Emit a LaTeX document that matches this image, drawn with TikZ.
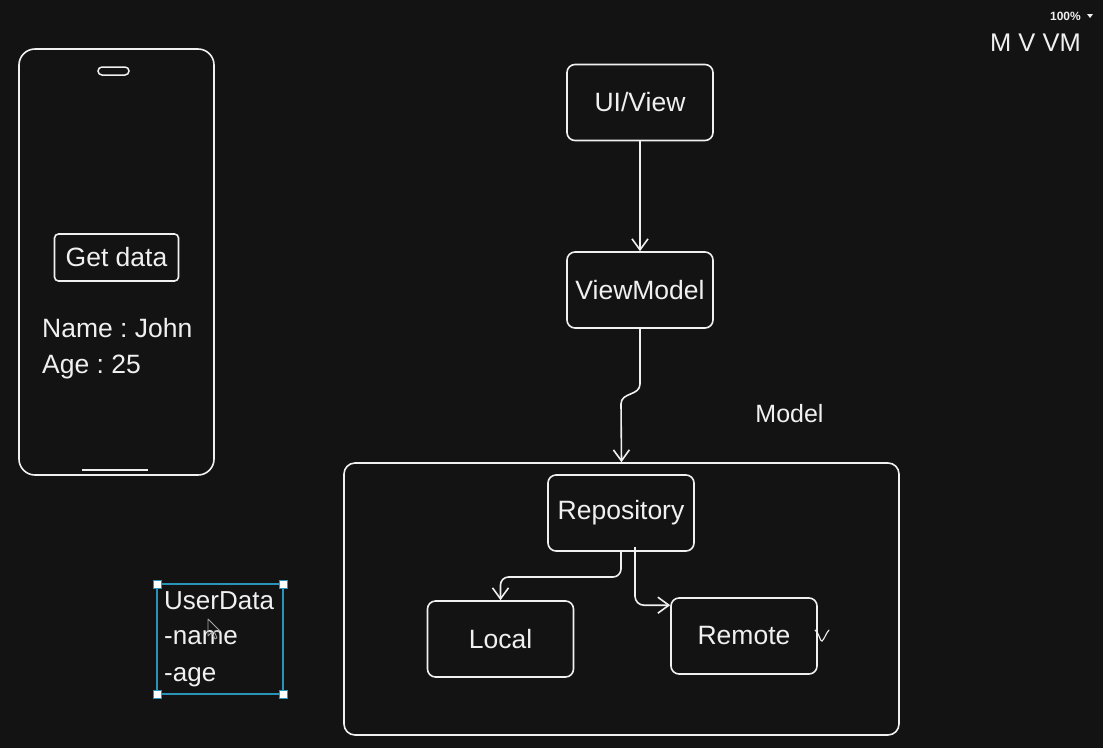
\documentclass[tikz,border=0pt]{standalone}
\usepackage{fontspec}
\setmainfont{Liberation Sans}
\usetikzlibrary{arrows.meta,calc}
\definecolor{bg}{HTML}{131313}
\definecolor{ln}{HTML}{F0F0F0}
\definecolor{sel}{HTML}{2A93B8}
\frenchspacing
\begin{document}
\begin{tikzpicture}[x=1pt,y=-1pt,
  box/.style={draw=ln, line width=1.6pt, rounded corners=8pt, minimum width=146pt,
    minimum height=76pt, text=ln, font=\fontsize{26.5}{30}\selectfont, inner sep=0pt},
  txt/.style={text=ln, font=\fontsize{26.5}{30}\selectfont, inner sep=0pt},
  arr/.style={draw=ln, line width=1.6pt, -{Straight Barb[length=11pt,width=16pt]}},
  handle/.style={draw=sel, fill=white, line width=1pt, minimum size=8pt, inner sep=0pt}]
\fill[bg] (0,0) rectangle (1103,748);
\useasboundingbox (0,0) rectangle (1103,748);

% top right
\node[text=ln, font=\bfseries\fontsize{12}{14}\selectfont, anchor=base east, inner sep=0pt] (zoomlbl) at (1081,20) {100\%};
\fill[ln] (1087,14) -- (1093,14) -- (1090,18) -- cycle;
\node[txt, font=\fontsize{25.5}{28}\selectfont, anchor=base east] (mvvm) at (1081,51) {M V VM};

% phone
\node[draw=ln, line width=1.6pt, rounded corners=16pt, minimum width=195pt, minimum height=426pt, inner sep=0pt] (phone) at (116.5,262) {};
\draw[ln, line width=1.5pt, rounded corners=4pt] (98,67) rectangle (129,75);
\draw[ln, line width=1.6pt] (82,470) -- (148,470);
\node[box, rounded corners=4pt, minimum width=124pt, minimum height=47pt] (getdata) at (116.5,257.5) {Get data};
\node[txt, anchor=base west] (name) at (42,337) {Name : John};
\node[txt, anchor=base west] (age) at (42,373) {Age : 25};

% user data selection
\draw[sel, line width=1.4pt] (157,584) rectangle (283,694);
\node[txt, font=\fontsize{26}{28}\selectfont, anchor=base west] (ud1) at (164,609) {UserData};
\node[txt, font=\fontsize{26}{28}\selectfont, anchor=base west] (ud2) at (164,644) {-name};
\node[txt, font=\fontsize{26}{28}\selectfont, anchor=base west] (ud3) at (164,681) {-age};
\node[handle] (h1) at (157,584) {};
\node[handle] (h2) at (283,584) {};
\node[handle] (h3) at (157,694) {};
\node[handle] (h4) at (283,694) {};
\draw[gray!70, line width=0.8pt, line join=round] (208,619) -- (208,636) -- (212,632) -- (215,639) -- (217,638) -- (214,631) -- (220,631) -- cycle;

% MVVM diagram
\node[box] (ui) at (640,102.5) {UI/View};
\node[box] (vm) at (640,290) {ViewModel};
\node[txt, font=\fontsize{25}{28}\selectfont, anchor=base] (modellbl) at (789.5,422) {Model};
\node[draw=ln, line width=1.6pt, rounded corners=11pt, minimum width=555pt, minimum height=272pt, inner sep=0pt] (model) at (621.5,599) {};
\node[box] (repo) at (621,513) {Repository};
\node[box] (local) at (500.5,639) {Local};
\node[box] (remote) at (744,636) {Remote};

\draw[arr] (ui) -- (vm);
\draw[arr] (vm.south) -- (640,384) .. controls (640,396) and (621,392) .. (621,404) -- (model.north);

\coordinate (lj) at (500.5,577);
\draw[arr, rounded corners=8pt] (repo.south) |- (lj) -- (local.north);

\coordinate (rs) at (635,547);
\coordinate (re) at ($(remote.north west)+(0,8)$);
\draw[arr, rounded corners=9pt] (rs) |- (re);

\draw[ln, line width=1.1pt, line cap=round] (815,630) .. controls (819,632) and (820,642) .. (822,641) .. controls (824,640) and (826,633) .. (829,630);
\end{tikzpicture}
\end{document}
